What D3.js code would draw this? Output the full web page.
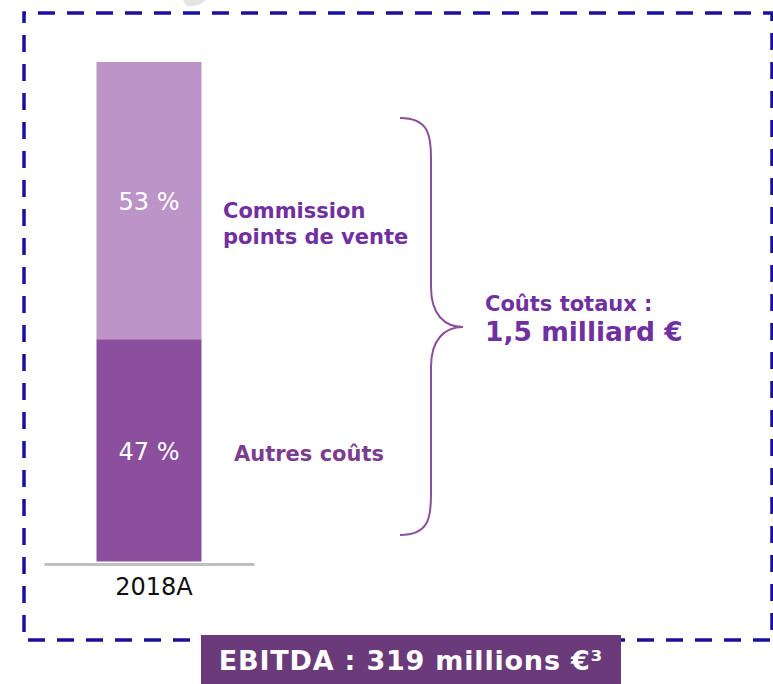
<!DOCTYPE html>
<html>
<head>
<meta charset="utf-8">
<script src="https://d3js.org/d3.v7.min.js"></script>
<style>
    body { margin: 0; background: #ffffff; }
    text { font-family: "DejaVu Sans", Verdana, sans-serif; }
</style>
</head>
<body>
<div id="container"></div>
<script>

// data (costs in billion euro)
var categories = ["2018A"];
var segmentNames = ["Autres coûts", "Commission points de vente"];
var segmentValues = [0.67, 0.83];
var segmentPercents = [47, 53];
var totalLabel = ["Coûts totaux :", "1,5 milliard €"];
var ebitdaLabel = "EBITDA : 319 millions €³";

// set variables for further use
var canvasX = 773;
var canvasY = 684;
var barTop = 62;
var barBottom = 563;
var colors = ["#8B4F9D", "#BC94C8"];
var purple = "#7030A0";

// make svg
var svg = d3.select("#container")
            .append("svg")
            .attr("width", canvasX)
            .attr("height", canvasY);

// scale x and y
var xScaled = d3.scaleBand()
                .domain(categories)
                .range([44, 254])
                .paddingInner(0)
                .paddingOuter(0.5);

var yScaled = d3.scaleLinear()
                .domain([0, d3.sum(segmentValues)])
                .range([barBottom, barTop]);

// make stacked data
var stack = [];
var running = 0;
for (var i = 0; i < segmentValues.length; i++) {
    stack.push({name: segmentNames[i], y0: running, y1: running + segmentValues[i],
                pct: segmentPercents[i], color: colors[i]});
    running += segmentValues[i];
}

// little grey shape cut off at the top
svg.append("path")
   .attr("d", "M183,0 L206,0 C202,4 195,7 187,6 C185,4 184,2 183,0 Z")
   .attr("fill", "#E4E4E4");

// dashed frame
svg.append("rect")
   .attr("x", 24)
   .attr("y", 13)
   .attr("width", 748)
   .attr("height", 627)
   .attr("fill", "none")
   .attr("stroke", "#1C0F9E")
   .attr("stroke-width", 3.5)
   .attr("stroke-dasharray", "17,12")
   .attr("stroke-dashoffset", 15);

// bars
svg.selectAll(".seg")
   .data(stack)
   .enter()
   .append("rect")
   .attr("class", "seg")
   .attr("x", xScaled("2018A"))
   .attr("width", xScaled.bandwidth())
   .attr("y", function(d) { return yScaled(d.y1); })
   .attr("height", function(d, i) {
       // small white gap between the two parts
       return yScaled(d.y0) - yScaled(d.y1) - (i == 0 ? 1.5 : 0);
   })
   .attr("fill", function(d) { return d.color; });

// percent labels in the bar
svg.selectAll(".pct")
   .data(stack)
   .enter()
   .append("text")
   .attr("class", "pct")
   .attr("x", xScaled("2018A") + xScaled.bandwidth() / 2)
   .attr("y", function(d) { return (yScaled(d.y0) + yScaled(d.y1)) / 2 + 9; })
   .attr("text-anchor", "middle")
   .attr("fill", "#ffffff")
   .attr("font-size", "24px")
   .text(function(d) { return d.pct + " %"; });

// x axis (baseline and label)
var xAxis = d3.axisBottom(xScaled).tickSize(0).tickPadding(12);
var axis = svg.append("g")
              .attr("transform", "translate(0," + (barBottom + 1) + ")")
              .call(xAxis);
axis.select(".domain")
    .attr("stroke", "#C0C0C0")
    .attr("stroke-width", 3);
axis.selectAll("text")
    .attr("font-size", "24px")
    .attr("fill", "#111111")
    .attr("dx", 5)
    .attr("dy", "0.8em");

// segment names
var autres = stack[0];
svg.append("text")
   .attr("x", 234)
   .attr("y", (yScaled(autres.y0) + yScaled(autres.y1)) / 2 + 10)
   .attr("fill", "#7B3D8E")
   .attr("font-weight", "bold")
   .attr("font-size", "21px")
   .text(autres.name);

var commission = stack[1];
var commText = svg.append("text")
                  .attr("x", 223)
                  .attr("y", (yScaled(commission.y0) + yScaled(commission.y1)) / 2 + 17)
                  .attr("fill", purple)
                  .attr("font-weight", "bold")
                  .attr("font-size", "21px");
commText.append("tspan").text("Commission");
commText.append("tspan")
        .attr("x", 223)
        .attr("dy", 26)
        .text("points de vente");

// brace
var bx = 400, bTop = 118, bBot = 535, bMid = 327, bLine = 431, bTip = 463;
var brace = "M" + bx + "," + bTop
          + " C" + (bLine - 2) + "," + bTop + " " + bLine + "," + (bTop + 18) + " " + bLine + "," + (bTop + 40)
          + " L" + bLine + "," + (bMid - 40)
          + " C" + bLine + "," + (bMid - 12) + " " + (bLine + 14) + "," + bMid + " " + bTip + "," + bMid
          + " C" + (bLine + 14) + "," + bMid + " " + bLine + "," + (bMid + 12) + " " + bLine + "," + (bMid + 40)
          + " L" + bLine + "," + (bBot - 40)
          + " C" + bLine + "," + (bBot - 18) + " " + (bLine - 2) + "," + bBot + " " + bx + "," + bBot;
svg.append("path")
   .attr("d", brace)
   .attr("fill", "none")
   .attr("stroke", "#8B4F9D")
   .attr("stroke-width", 2);

// total label
svg.append("text")
   .attr("x", 485)
   .attr("y", 311)
   .attr("fill", purple)
   .attr("font-weight", "bold")
   .attr("font-size", "21px")
   .text(totalLabel[0]);
svg.append("text")
   .attr("x", 485)
   .attr("y", 341)
   .attr("fill", purple)
   .attr("font-weight", "bold")
   .attr("font-size", "26.5px")
   .text(totalLabel[1]);

// EBITDA box
svg.append("rect")
   .attr("x", 201)
   .attr("y", 635)
   .attr("width", 420)
   .attr("height", 49)
   .attr("fill", "#6B3A7B");
svg.append("text")
   .attr("x", 411)
   .attr("y", 670)
   .attr("text-anchor", "middle")
   .attr("fill", "#ffffff")
   .attr("font-weight", "bold")
   .attr("font-size", "27px")
   .attr("letter-spacing", "0.8px")
   .text(ebitdaLabel);

</script>
</body>
</html>
